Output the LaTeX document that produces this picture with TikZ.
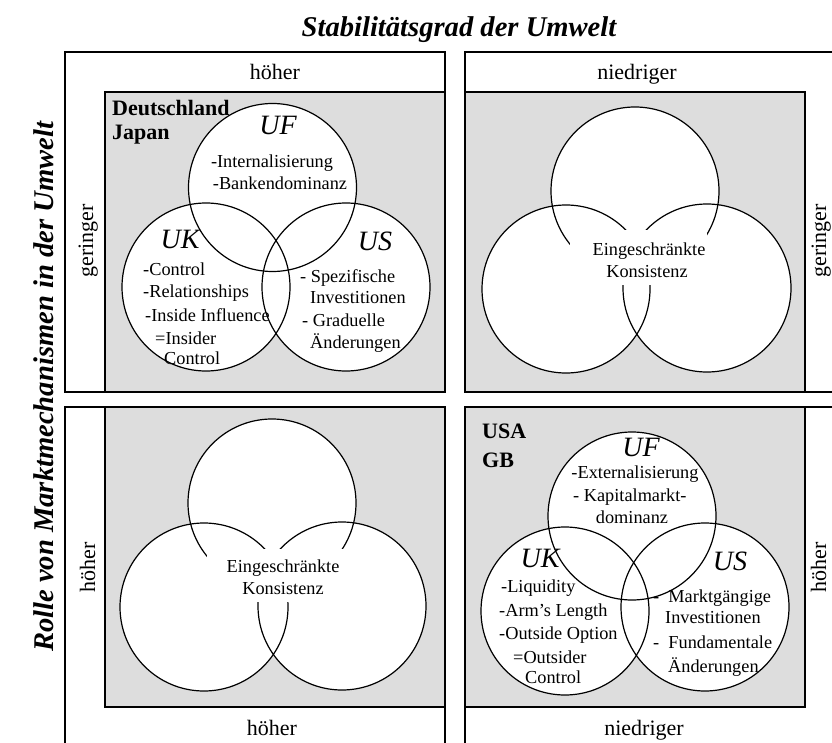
\documentclass[tikz,border=0pt]{standalone}
\usepackage{fontspec}
\setmainfont{Liberation Serif}
\begin{document}
\begin{tikzpicture}[x=1pt,y=-1pt,
  frame/.style={draw=black, line width=1.4pt},
  panel/.style={draw=black, fill=gray!27, line width=1.4pt},
  circ/.style={draw=black, line width=1.2pt},
  lab/.style={font=\fontsize{22}{26}\selectfont, inner sep=0pt},
  txt/.style={font=\fontsize{18.3}{21}\selectfont, inner sep=0pt},
  big/.style={font=\fontsize{28}{32}\selectfont\itshape, inner sep=0pt},
  country/.style={font=\fontsize{22}{26}\selectfont\bfseries, inner sep=0pt},
  ttl/.style={font=\fontsize{28.6}{33}\selectfont\bfseries\itshape, inner sep=0pt},
  blank/.style={fill=white, draw=none, inner sep=0pt, outer sep=0pt}
]
\useasboundingbox (0,0) rectangle (832,743);
\clip (0,0) rectangle (832,743);

% titles
\node[ttl, anchor=base] (title) at (459,37) {Stabilitätsgrad der Umwelt};
\node[ttl, anchor=base, rotate=90] (ylabel) at (53,387) {Rolle von Marktmechanismen in der Umwelt};

% ---------------- top left ----------------
\draw[frame] (65,52) rectangle (445,392);
\draw[panel] (105,92) rectangle (445,392);
\node[lab, anchor=base] (tlTop) at (275,80) {höher};
\node[lab, anchor=base, rotate=90] (tlSide) at (93,241) {geringer};
\coordinate (tlF) at (272.5,187.5);
\coordinate (tlK) at (206,287);
\coordinate (tlS) at (346,287);
\foreach \c in {tlF,tlK,tlS} \fill[white] (\c) circle (84);
\foreach \c in {tlF,tlK,tlS} \draw[circ] (\c) circle (84);
\node[country, anchor=base west] (tlC1) at (112,116) {Deutschland};
\node[country, anchor=base west] (tlC2) at (112,140) {Japan};
\node[big, anchor=base] (tlUF) at (278,135) {UF};
\node[big, anchor=base] (tlUK) at (180,248) {UK};
\node[big, anchor=base] (tlUS) at (375,251) {US};
\node[txt, anchor=base] (tlF1) at (272,168) {-Internalisierung};
\node[txt, anchor=base] (tlF2) at (280,190) {-Bankendominanz};
\node[txt, anchor=base west] (tlK1) at (143,276) {-Control};
\node[txt, anchor=base west] (tlK2) at (143,298) {-Relationships};
\node[txt, anchor=base west] (tlK3) at (145,321) {-Inside Influence};
\node[txt, anchor=base west] (tlK4) at (155,344) {=Insider};
\node[txt, anchor=base west] (tlK5) at (164,364) {Control};
\node[txt, anchor=base west] (tlS1) at (300,283) {- Spezifische};
\node[txt, anchor=base west] (tlS2) at (310,303) {Investitionen};
\node[txt, anchor=base west] (tlS3) at (302,326) {- Graduelle};
\node[txt, anchor=base west] (tlS4) at (310,348) {Änderungen};

% ---------------- top right ----------------
\draw[frame] (465,52) rectangle (845,392);
\draw[panel] (465,92) rectangle (805,392);
\node[lab, anchor=base] (trTop) at (637,80) {niedriger};
\node[lab, anchor=base, rotate=90] (trSide) at (826,241) {geringer};
\coordinate (trF) at (635,191);
\coordinate (trK) at (566,289);
\coordinate (trS) at (707,288);
\foreach \c in {trF,trK,trS} \fill[white] (\c) circle (84);
\foreach \c in {trF,trK,trS} \draw[circ] (\c) circle (84);
\node[blank, minimum width=137pt, minimum height=55pt] (trBox) at (638.5,257.5) {};
\node[txt, anchor=base] (trT1) at (649,255) {Eingeschränkte};
\node[txt, anchor=base] (trT2) at (647,277) {Konsistenz};

% ---------------- bottom left ----------------
\draw[frame] (65,407) rectangle (445,747);
\draw[panel] (105,407) rectangle (445,707);
\node[lab, anchor=base] (blBot) at (272,735) {höher};
\node[lab, anchor=base, rotate=90] (blSide) at (95,567) {höher};
\coordinate (blF) at (272,503);
\coordinate (blK) at (204,607);
\coordinate (blS) at (342,606);
\foreach \c in {blF,blK,blS} \fill[white] (\c) circle (84);
\foreach \c in {blF,blK,blS} \draw[circ] (\c) circle (84);
\node[blank, minimum width=136pt, minimum height=53pt] (blBox) at (275,575.5) {};
\node[txt, anchor=base] (blT1) at (283,572) {Eingeschränkte};
\node[txt, anchor=base] (blT2) at (283,594) {Konsistenz};

% ---------------- bottom right ----------------
\draw[frame] (465,407) rectangle (845,747);
\draw[panel] (465,407) rectangle (805,707);
\node[lab, anchor=base] (brBot) at (644,735) {niedriger};
\node[lab, anchor=base, rotate=90] (brSide) at (826,567) {höher};
\coordinate (brF) at (632,516);
\coordinate (brK) at (565,611);
\coordinate (brS) at (705,607);
\foreach \c in {brF,brK,brS} \fill[white] (\c) circle (84);
\foreach \c in {brF,brK,brS} \draw[circ] (\c) circle (84);
\node[country, anchor=base west] (brC1) at (482,438) {USA};
\node[country, anchor=base west] (brC2) at (482,467) {GB};
\node[big, anchor=base] (brUF) at (641,456) {UF};
\node[big, anchor=base] (brUK) at (540,567) {UK};
\node[big, anchor=base] (brUS) at (730,570) {US};
\node[txt, anchor=base] (brF1) at (635,478) {-Externalisierung};
\node[txt, anchor=base west] (brF2) at (573,501) {- Kapitalmarkt-};
\node[txt, anchor=base] (brF3) at (632,523) {dominanz};
\node[txt, anchor=base west] (brK1) at (501,592) {-Liquidity};
\node[txt, anchor=base west] (brK2) at (499,616) {-Arm’s Length};
\node[txt, anchor=base west] (brK3) at (499,639) {-Outside Option};
\node[txt, anchor=base west] (brK4) at (513,663) {=Outsider};
\node[txt, anchor=base west] (brK5) at (525,683) {Control};
\node[txt, anchor=base west] (brS1) at (653,602) {- \ Marktgängige};
\node[txt, anchor=base west] (brS2) at (665,623) {Investitionen};
\node[txt, anchor=base west] (brS3) at (653,648) {- \ Fundamentale};
\node[txt, anchor=base west] (brS4) at (668,672) {Änderungen};
\end{tikzpicture}
\end{document}
